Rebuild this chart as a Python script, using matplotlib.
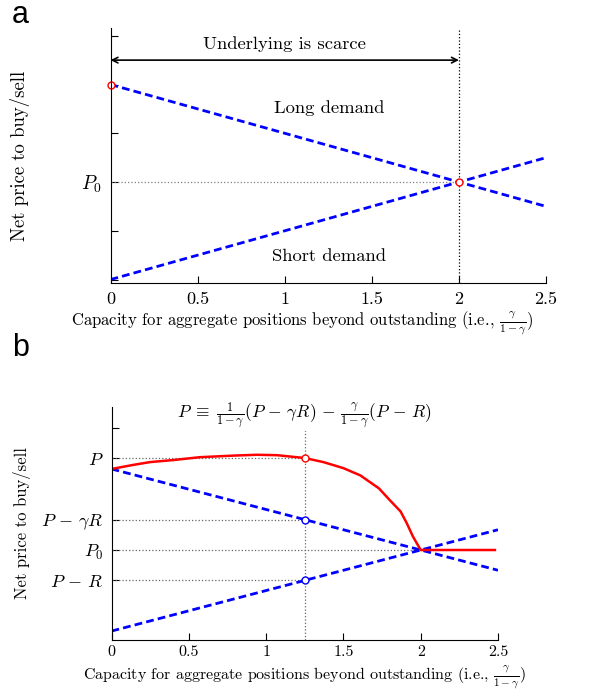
import matplotlib
matplotlib.use("Agg")
import matplotlib.pyplot as plt

plt.rcParams['font.family'] = 'cmr10'
plt.rcParams['mathtext.fontset'] = 'cm'
plt.rcParams['axes.formatter.use_mathtext'] = True

# panel a data
cap_a = [0, 2, 2.5]
long_a = [2, 0, -0.5]
short_a = [-2, 0, 0.5]
yticks_a = [-2, -1, 0, 1, 2, 3]
ylabels_a = ['', '', '$P_0$', '', '', '']

# panel b data
cap_b = [0, 2, 2.5]
long_b = [2, 0, -0.5]
short_b = [-2, 0, 0.5]
red_x = [0, 0.14, 0.25, 0.40, 0.57, 0.79, 0.94, 1.07, 1.25, 1.37, 1.50,
         1.61, 1.73, 1.80, 1.87, 1.91, 1.95, 2.0, 2.48]
red_y = [2.0, 2.1, 2.17, 2.22, 2.29, 2.33, 2.35, 2.34, 2.27, 2.17, 2.02,
         1.84, 1.52, 1.23, 0.95, 0.66, 0.33, 0.0, 0.0]
x_mark = 1.25
p_level = 2.27
pgr_level = 0.75
pr_level = -0.75
yticks_b = [pr_level, 0, pgr_level, p_level, 3]
ylabels_b = [r'$P\,-\,R$', '$P_0$', r'$P\,-\,\gamma R$', '$P$', '']

xticks = [0, 0.5, 1, 1.5, 2, 2.5]
xlabels = ['0', '0.5', '1', '1.5', '2', '2.5']
xlab = r'Capacity for aggregate positions beyond outstanding (i.e., $\frac{\gamma}{1-\gamma}$)'
ylab = 'Net price to buy/sell'
formula = (r'$P\;\equiv\;\frac{1}{1-\gamma}(P\,-\,\gamma R)\,-\,'
           r'\frac{\gamma}{1-\gamma}(P\,-\,R)$')

fig = plt.figure(figsize=(5.98, 6.9), dpi=100)
ax1 = fig.add_axes([0.1848, 0.5899, 0.7283, 0.3696])
ax2 = fig.add_axes([0.1865, 0.0725, 0.6463, 0.3377])


def style(ax, fs, pad):
    for s in ['top', 'right']:
        ax.spines[s].set_visible(False)
    ax.tick_params(direction='in', length=5, width=0.8, labelsize=fs, pad=pad)
    ax.set_xlim(0, 2.5)
    ax.set_xticks(xticks)
    ax.set_xticklabels(xlabels)


dash = (2.8, 1.5)

# ---- panel a
style(ax1, 13, 6)
ax1.set_ylim(-2.07, 3.16)
ax1.set_yticks(yticks_a)
ax1.set_yticklabels(ylabels_a, fontsize=14)
ax1.plot([0, 2], [0, 0], ':', color='0.5', lw=0.9)
ax1.plot([2, 2], [-2.07, 3.16], ':', color='black', lw=0.9)
ax1.plot(cap_a, long_a, '--', color='blue', lw=2, dashes=dash)
ax1.plot(cap_a, short_a, '--', color='blue', lw=2, dashes=dash)
ax1.plot([0, 2], [2, 0], 'o', ls='none', mfc='white', mec='red', ms=5, mew=1, clip_on=False)
ax1.annotate('', xy=(0, 2.5), xytext=(2, 2.5),
             arrowprops=dict(arrowstyle='<->', color='black', lw=1.2, shrinkA=0, shrinkB=0))
ax1.text(1.0, 2.83, 'Underlying is scarce', ha='center', va='center', fontsize=13.4)
ax1.text(1.254, 1.52, 'Long demand', ha='center', va='center', fontsize=13.4)
ax1.text(1.253, -1.53, 'Short demand', ha='center', va='center', fontsize=13.4)
ax1.set_xlabel(xlab, fontsize=12)
ax1.xaxis.set_label_coords(0.44, -0.098)
ax1.set_ylabel(ylab, fontsize=13.5, va='center')
ax1.yaxis.set_label_coords(-0.208, 0.5)
fig.text(0.02, 0.978, 'a', family='Liberation Sans', fontsize=22, va='center')

# ---- panel b
style(ax2, 11.5, 4)
ax2.set_ylim(-2.22, 3.53)
ax2.set_yticks(yticks_b)
ax2.set_yticklabels(ylabels_b, fontsize=13)
ax2.tick_params(axis='y', pad=6)
for lev in [p_level, pgr_level, pr_level]:
    ax2.plot([0, x_mark], [lev, lev], ':', color='0.4', lw=0.9)
ax2.plot([0, 2], [0, 0], ':', color='0.4', lw=0.9)
ax2.plot([x_mark, x_mark], [-2.22, 3.53], ':', color='0.4', lw=0.9)
ax2.plot(cap_b, long_b, '--', color='blue', lw=2, dashes=dash)
ax2.plot(cap_b, short_b, '--', color='blue', lw=2, dashes=dash)
ax2.plot(red_x, red_y, '-', color='red', lw=1.8)
ax2.plot([x_mark], [p_level], 'o', mfc='white', mec='red', ms=5, mew=1)
ax2.plot([x_mark, x_mark], [pgr_level, pr_level], 'o', ls='none', mfc='white', mec='blue', ms=5, mew=1)
ax2.text(x_mark, 3.31, formula, ha='center', va='center', fontsize=12.5,
         bbox=dict(facecolor='white', edgecolor='none', pad=0))
ax2.set_xlabel(xlab, fontsize=11.5)
ax2.xaxis.set_label_coords(0.5, -0.104)
ax2.set_ylabel(ylab, fontsize=12, va='center')
ax2.yaxis.set_label_coords(-0.2316, 0.5)
fig.text(0.02, 0.495, 'b', family='Liberation Sans', fontsize=22, va='center')

fig.savefig('out.png', dpi=100)
